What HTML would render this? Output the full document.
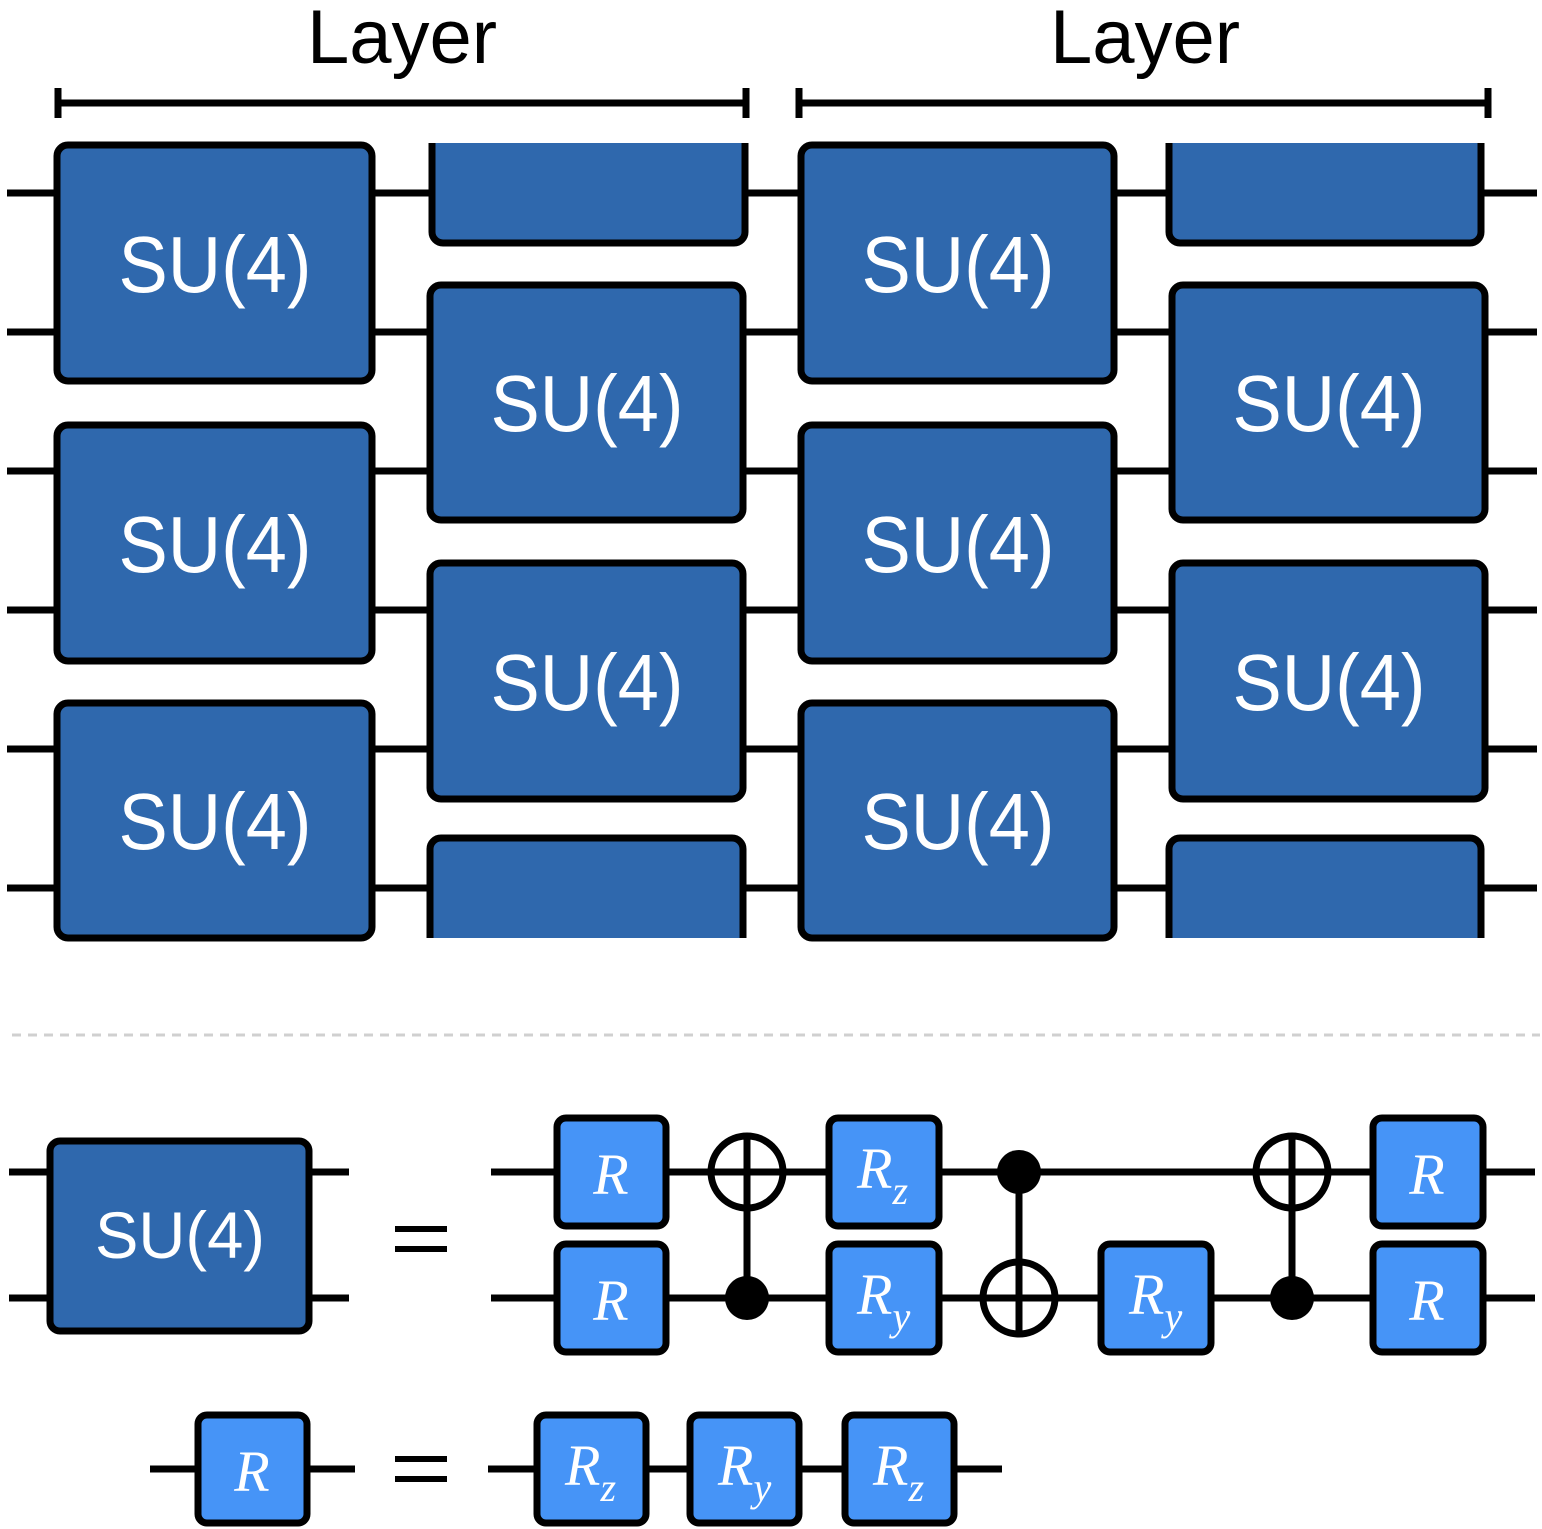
<!DOCTYPE html>
<html><head><meta charset="utf-8"><style>html,body{margin:0;padding:0;background:#fff}svg{display:block}</style></head>
<body>
<svg width="1542" height="1529" viewBox="0 0 1542 1529" xmlns="http://www.w3.org/2000/svg">
<defs>
<clipPath id="clipTop"><rect x="0" y="143" width="1542" height="795"/></clipPath>
</defs>
<g stroke="#000" stroke-width="7" fill="none">
<line x1="7" y1="193" x2="1537" y2="193"/>
<line x1="7" y1="332" x2="1537" y2="332"/>
<line x1="7" y1="471" x2="1537" y2="471"/>
<line x1="7" y1="610" x2="1537" y2="610"/>
<line x1="7" y1="749" x2="1537" y2="749"/>
<line x1="7" y1="888" x2="1537" y2="888"/>
<line x1="58" y1="103" x2="746" y2="103"/>
<line x1="58" y1="88" x2="58" y2="118"/>
<line x1="746" y1="88" x2="746" y2="118"/>
<line x1="799" y1="103" x2="1488" y2="103"/>
<line x1="799" y1="88" x2="799" y2="118"/>
<line x1="1488" y1="88" x2="1488" y2="118"/>
</g>
<text x="402" y="63" font-family="Liberation Sans, sans-serif" font-size="76" text-anchor="middle">Layer</text>
<text x="1145" y="63" font-family="Liberation Sans, sans-serif" font-size="76" text-anchor="middle">Layer</text>
<g fill="#2F68AD" stroke="#000" stroke-width="7">
<rect x="57" y="145" width="315" height="236" rx="11"/>
<rect x="57" y="425" width="315" height="236" rx="11"/>
<rect x="57" y="703" width="315" height="235" rx="11"/>
<rect x="801" y="145" width="313" height="236" rx="11"/>
<rect x="801" y="425" width="313" height="236" rx="11"/>
<rect x="801" y="703" width="313" height="235" rx="11"/>
<rect x="430" y="285" width="313" height="235" rx="11"/>
<rect x="430" y="563" width="313" height="236" rx="11"/>
<rect x="1172" y="285" width="313" height="235" rx="11"/>
<rect x="1172" y="563" width="313" height="236" rx="11"/>
<g clip-path="url(#clipTop)">
<rect x="432" y="7" width="313" height="236" rx="11"/>
<rect x="430" y="838" width="313" height="236" rx="11"/>
<rect x="1169" y="7" width="312" height="236" rx="11"/>
<rect x="1169" y="838" width="312" height="236" rx="11"/>
</g>
</g>
<g fill="#fff" font-family="Liberation Sans, sans-serif" font-size="80" text-anchor="middle" textLength="193" lengthAdjust="spacingAndGlyphs">
<text x="215" y="292" textLength="193" lengthAdjust="spacingAndGlyphs">SU(4)</text>
<text x="215" y="572" textLength="193" lengthAdjust="spacingAndGlyphs">SU(4)</text>
<text x="215" y="849" textLength="193" lengthAdjust="spacingAndGlyphs">SU(4)</text>
<text x="958" y="292" textLength="193" lengthAdjust="spacingAndGlyphs">SU(4)</text>
<text x="958" y="572" textLength="193" lengthAdjust="spacingAndGlyphs">SU(4)</text>
<text x="958" y="849" textLength="193" lengthAdjust="spacingAndGlyphs">SU(4)</text>
<text x="587" y="431" textLength="193" lengthAdjust="spacingAndGlyphs">SU(4)</text>
<text x="587" y="710" textLength="193" lengthAdjust="spacingAndGlyphs">SU(4)</text>
<text x="1329" y="431" textLength="193" lengthAdjust="spacingAndGlyphs">SU(4)</text>
<text x="1329" y="710" textLength="193" lengthAdjust="spacingAndGlyphs">SU(4)</text>
</g>
<line x1="12" y1="1035" x2="1540" y2="1035" stroke="#d0d0d0" stroke-width="3" stroke-dasharray="9 7"/>
<g stroke="#000" stroke-width="7" fill="none">
<line x1="9" y1="1172" x2="349" y2="1172"/>
<line x1="9" y1="1298" x2="349" y2="1298"/>
<line x1="491" y1="1172" x2="1535" y2="1172"/>
<line x1="491" y1="1298" x2="1535" y2="1298"/>
<line x1="150" y1="1469" x2="355" y2="1469"/>
<line x1="488" y1="1469" x2="1002" y2="1469"/>
<line x1="747" y1="1136" x2="747" y2="1298"/>
<line x1="1019" y1="1172" x2="1019" y2="1334"/>
<line x1="1292" y1="1136" x2="1292" y2="1298"/>
<circle cx="747" cy="1172" r="36"/>
<circle cx="1019" cy="1298" r="36"/>
<circle cx="1292" cy="1172" r="36"/>
</g>
<g fill="#000">
<circle cx="747" cy="1298" r="22"/>
<circle cx="1019" cy="1172" r="22"/>
<circle cx="1292" cy="1298" r="22"/>
</g>
<rect x="50" y="1141" width="259" height="190" rx="10" fill="#2F68AD" stroke="#000" stroke-width="7"/>
<text x="180" y="1258" fill="#fff" font-family="Liberation Sans, sans-serif" font-size="66" text-anchor="middle" textLength="170" lengthAdjust="spacingAndGlyphs">SU(4)</text>
<g fill="#000">
<rect x="395" y="1226" width="52" height="6"/><rect x="395" y="1246" width="52" height="6"/>
<rect x="395" y="1456" width="52" height="6"/><rect x="395" y="1476" width="52" height="6"/>
</g>
<g fill="#4694F7" stroke="#000" stroke-width="7">
<rect x="557" y="1118" width="109" height="108" rx="9"/>
<rect x="557" y="1244" width="109" height="108" rx="9"/>
<rect x="829" y="1118" width="110" height="108" rx="9"/>
<rect x="829" y="1244" width="110" height="108" rx="9"/>
<rect x="1101" y="1244" width="110" height="108" rx="9"/>
<rect x="1373" y="1118" width="110" height="108" rx="9"/>
<rect x="1373" y="1244" width="110" height="108" rx="9"/>
<rect x="198" y="1415" width="109" height="108" rx="9"/>
<rect x="537" y="1415" width="109" height="108" rx="9"/>
<rect x="690" y="1415" width="109" height="108" rx="9"/>
<rect x="845" y="1415" width="109" height="108" rx="9"/>
</g>
<g fill="#fff" font-family="Liberation Serif, serif" font-style="italic" font-size="58">
<text x="611" y="1194" text-anchor="middle">R</text>
<text x="611" y="1320" text-anchor="middle">R</text>
<text x="1427" y="1194" text-anchor="middle">R</text>
<text x="1427" y="1320" text-anchor="middle">R</text>
<text x="252" y="1491" text-anchor="middle">R</text>
<text x="857" y="1188">R<tspan font-size="40" dy="16">z</tspan></text>
<text x="857" y="1314">R<tspan font-size="40" dy="16">y</tspan></text>
<text x="1129" y="1314">R<tspan font-size="40" dy="16">y</tspan></text>
<text x="565" y="1485">R<tspan font-size="40" dy="16">z</tspan></text>
<text x="718" y="1485">R<tspan font-size="40" dy="16">y</tspan></text>
<text x="873" y="1485">R<tspan font-size="40" dy="16">z</tspan></text>
</g>
</svg>
</body></html>
